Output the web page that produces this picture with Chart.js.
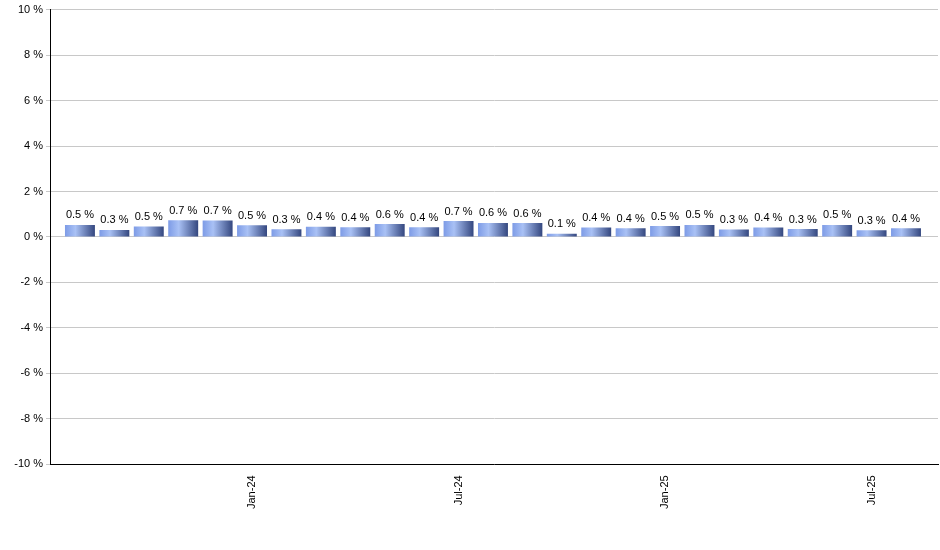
<!DOCTYPE html>
<html><head><meta charset="utf-8">
<script src="https://cdn.jsdelivr.net/npm/chart.js@4"></script>
<style>html,body{margin:0;padding:0;background:#fff}#w{width:940px;height:550px}</style>
</head><body><div id="w"><canvas id="c"></canvas></div>
<script>
const categories=["Aug-23","Sep-23","Oct-23","Nov-23","Dec-23","Jan-24","Feb-24","Mar-24","Apr-24","May-24","Jun-24","Jul-24","Aug-24","Sep-24","Oct-24","Nov-24","Dec-24","Jan-25","Feb-25","Mar-25","Apr-25","May-25","Jun-25","Jul-25","Aug-25"];
const values=[0.53,0.31,0.46,0.74,0.73,0.52,0.34,0.45,0.43,0.57,0.43,0.70,0.62,0.61,0.14,0.42,0.38,0.48,0.53,0.33,0.42,0.35,0.53,0.30,0.38];
const valueLabels=["0.5 %","0.3 %","0.5 %","0.7 %","0.7 %","0.5 %","0.3 %","0.4 %","0.4 %","0.6 %","0.4 %","0.7 %","0.6 %","0.6 %","0.1 %","0.4 %","0.4 %","0.5 %","0.5 %","0.3 %","0.4 %","0.3 %","0.5 %","0.3 %","0.4 %"];
const shownTicks=["Jan-24","Jul-24","Jan-25","Jul-25"];
const font="Arial, 'Liberation Sans', sans-serif";
const labelPlugin={id:'lbl',afterDatasetsDraw(ch){const c=ch.ctx;const m=ch.getDatasetMeta(0);c.save();c.font="11px "+font;c.fillStyle="#000";c.textAlign="center";c.textBaseline="bottom";m.data.forEach((b,i)=>{c.fillText(valueLabels[i],b.x,Math.min(b.y,b.base)-4);});c.restore();}};
const pts=values.map((v,i)=>({x:i,y:v}));
new Chart(document.getElementById('c'),{type:'bar',
data:{datasets:[{data:pts,barPercentage:0.87,categoryPercentage:1,
backgroundColor:(ctx)=>{const ch=ctx.chart;if(!ch.chartArea)return '#6080d0';const x=ch.scales.x.getPixelForValue(ctx.dataIndex);const w=ch.scales.x.getPixelForValue(1)-ch.scales.x.getPixelForValue(0);const bw=w*0.87;const g=ch.ctx.createLinearGradient(x-bw/2,0,x+bw/2,0);g.addColorStop(0,'#7d9be6');g.addColorStop(0.35,'#a9c1f5');g.addColorStop(1,'#34477f');return g;}}]},
options:{responsive:true,maintainAspectRatio:false,animation:false,
layout:{padding:{left:0,right:2,top:4,bottom:38}},
plugins:{legend:{display:false},tooltip:{enabled:false}},
scales:{y:{min:-10,max:10,afterFit(s){s.width=50;},ticks:{stepSize:2,color:'#000',font:{size:11,family:font},callback:v=>v+' %'},grid:{color:'#c8c8c8',drawTicks:true,tickLength:4},border:{color:'#000'}},
x:{type:'linear',min:-0.87,max:24.93,offset:false,grid:{display:false},border:{color:'#000'},afterBuildTicks(s){s.ticks=categories.map((c,i)=>({value:i}));},ticks:{autoSkip:false,minRotation:90,maxRotation:90,color:'#000',font:{size:11,family:font},callback:function(v){const l=categories[v];return shownTicks.includes(l)?l:'';}}}}},
plugins:[labelPlugin]});
</script></body></html>
